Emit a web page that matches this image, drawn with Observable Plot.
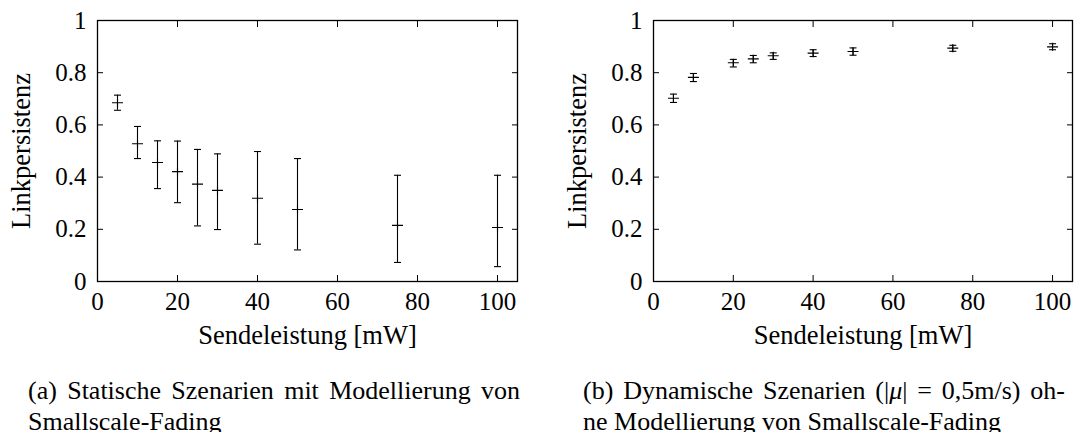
<!DOCTYPE html>
<html><head><meta charset="utf-8">
<script src="https://cdn.jsdelivr.net/npm/d3@7"></script>
<script src="https://cdn.jsdelivr.net/npm/@observablehq/plot@0.6"></script>
<style>
body{margin:0;background:#fff;font-family:"Liberation Serif",serif;}
#wrap{position:relative;width:1082px;height:432px;overflow:hidden;background:#fff}
.panel{position:absolute;top:0}
.cap{position:absolute;font-size:26px;line-height:31px;color:#000;white-space:nowrap;font-family:"Liberation Serif",serif}
.j{text-align:justify;text-align-last:justify;white-space:normal}
</style></head><body>
<div id="wrap">
  <div class="panel" id="pa" style="left:0"></div>
  <div class="panel" id="pb" style="left:541px"></div>
  <div class="cap" style="left:28px;top:375px;width:492px">
    <div class="j">(a) Statische Szenarien mit Modellierung von</div>
    <div>Smallscale-Fading</div>
  </div>
  <div class="cap" style="left:583px;top:375px;width:482px">
    <div class="j">(b) Dynamische Szenarien (|<i>μ</i>| = 0,5m/s) oh-</div>
    <div>ne Modellierung von Smallscale-Fading</div>
  </div>
</div>
<script>
const staticPower = [5, 10, 15, 20, 25, 30, 40, 50, 75, 100];
const staticMean  = [0.685, 0.528, 0.456, 0.421, 0.373, 0.349, 0.319, 0.276, 0.215, 0.207];
const staticLow   = [0.656, 0.471, 0.356, 0.302, 0.213, 0.199, 0.143, 0.121, 0.073, 0.057];
const staticHigh  = [0.714, 0.594, 0.539, 0.538, 0.506, 0.489, 0.498, 0.471, 0.407, 0.407];

const dynamicPower = [5, 10, 20, 25, 30, 40, 50, 75, 100];
const dynamicMean  = [0.702, 0.782, 0.838, 0.853, 0.865, 0.875, 0.881, 0.894, 0.899];
const dynamicLow   = [0.686, 0.766, 0.822, 0.838, 0.851, 0.862, 0.867, 0.882, 0.888];
const dynamicHigh  = [0.718, 0.797, 0.851, 0.866, 0.876, 0.888, 0.895, 0.905, 0.911];

const xTicks = [0, 20, 40, 60, 80, 100];
const yTicks = [0, 0.2, 0.4, 0.6, 0.8, 1];
const xLabel = "Sendeleistung [mW]";
const yLabel = "Linkpersistenz";

const capSymbol = {draw(ctx) { ctx.moveTo(-3.5, 0); ctx.lineTo(3.5, 0); }};
const plusSymbol = {draw(ctx) { ctx.moveTo(-5.5, 0); ctx.lineTo(5.5, 0); ctx.moveTo(0, -4); ctx.lineTo(0, 4); }};

function panel(power, mean, low, high, ml, mr) {
  const data = power.map((p, i) => ({p, m: mean[i], lo: low[i], hi: high[i]}));
  const blank = () => "";
  return Plot.plot({
    width: 541, height: 360,
    marginLeft: ml, marginRight: mr, marginTop: 20, marginBottom: 79,
    x: {domain: [0, 105]},
    y: {domain: [0, 1]},
    style: {fontFamily: "Liberation Serif", fontSize: "25px", background: "white", color: "black", overflow: "visible"},
    marks: [
      Plot.axisX({ticks: xTicks, tickSize: 0, tickPadding: 11, label: null, tickFormat: d => String(d), fontSize: 25}),
      Plot.axisX({ticks: xTicks, tickSize: -6, tickFormat: blank, label: null}),
      Plot.axisX({anchor: "top", ticks: xTicks, tickSize: -6, tickFormat: blank, label: null}),
      Plot.axisY({ticks: yTicks, tickSize: 0, tickPadding: 11, label: null, tickFormat: d => String(d), fontSize: 25}),
      Plot.axisY({ticks: yTicks, tickSize: -6, tickFormat: blank, label: null}),
      Plot.axisY({anchor: "right", ticks: yTicks, tickSize: -6, tickFormat: blank, label: null}),
      Plot.frame({stroke: "black", strokeWidth: 1.3}),
      Plot.ruleX(data, {x: "p", y1: "lo", y2: "hi", stroke: "black", strokeWidth: 1.1}),
      Plot.dot(data, {x: "p", y: "lo", symbol: capSymbol, r: 2, fill: "none", stroke: "black", strokeWidth: 1.1}),
      Plot.dot(data, {x: "p", y: "hi", symbol: capSymbol, r: 2, fill: "none", stroke: "black", strokeWidth: 1.1}),
      Plot.dot(data, {x: "p", y: "m", symbol: plusSymbol, r: 2, fill: "none", stroke: "black", strokeWidth: 1.1}),
      Plot.text([xLabel], {text: d => d, frameAnchor: "bottom", dy: 54, lineAnchor: "middle", textAnchor: "middle", fontSize: 26.5}),
      Plot.text([yLabel], {text: d => d, frameAnchor: "left", dx: -76, rotate: -90, lineAnchor: "middle", textAnchor: "middle", fontSize: 26.5})
    ]
  });
}

document.getElementById("pa").append(panel(staticPower, staticMean, staticLow, staticHigh, 97, 24));
document.getElementById("pb").append(panel(dynamicPower, dynamicMean, dynamicLow, dynamicHigh, 112, 10));
</script>
</body></html>
